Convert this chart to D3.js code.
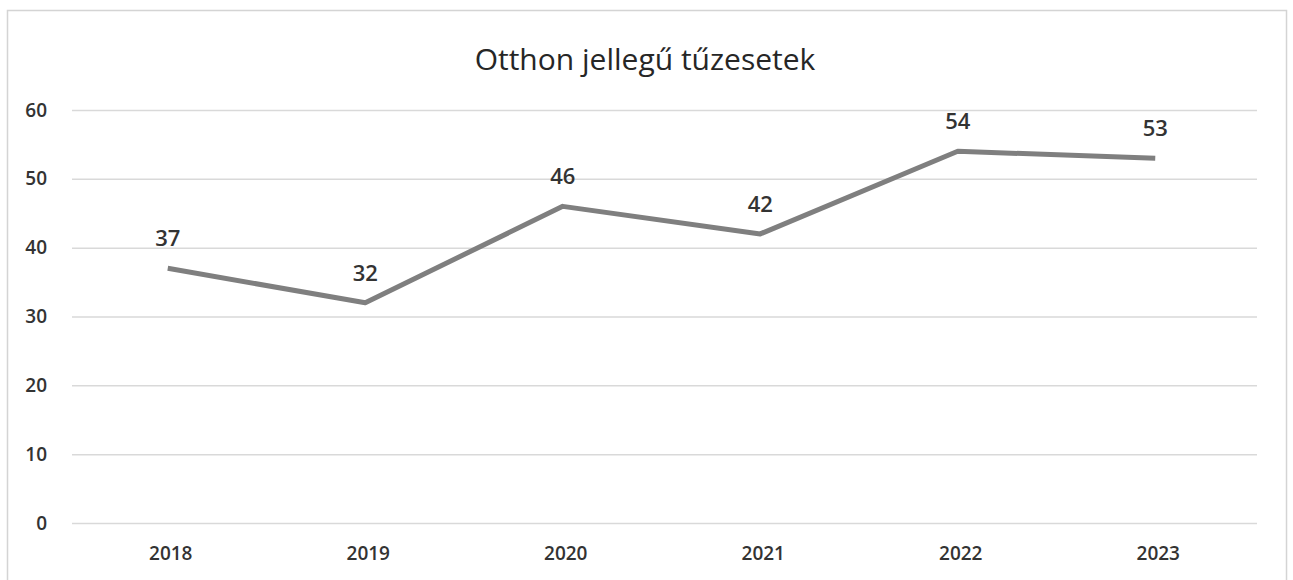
<!DOCTYPE html>
<html><head><meta charset="utf-8">
<script src="https://cdn.jsdelivr.net/npm/d3@7"></script>
<style>body{margin:0;background:#fff}svg{display:block}</style>
</head><body>
<svg id="c" width="1293" height="580"></svg>
<script>
const title = "Otthon jellegű tűzesetek";
const categories = ["2018","2019","2020","2021","2022","2023"];
const values = [37, 32, 46, 42, 54, 53];
const yTicks = [0,10,20,30,40,50,60];

const svg = d3.select("#c");
const m = {left:72, right:1257, top:110, bottom:523};
const font = "'Open Sans', 'DejaVu Sans', sans-serif";

svg.append("rect").attr("x",7.5).attr("y",10.5).attr("width",1279).attr("height",600)
  .attr("fill","#fff").attr("stroke","#d4d4d4").attr("stroke-width",1.5);

const x = d3.scaleBand().domain(categories).range([m.left, m.right]);
const y = d3.scaleLinear().domain([0,60]).range([m.bottom, m.top]);

svg.append("text").attr("x",645).attr("y",70).attr("text-anchor","middle")
  .attr("font-family",font).attr("font-size",30).attr("fill","#262626").text(title);

const yAxis = d3.axisLeft(y).tickValues(yTicks).tickSize(-(m.right-m.left)).tickPadding(25);
const gy = svg.append("g").attr("transform",`translate(${m.left},0)`).call(yAxis);
gy.select(".domain").remove();
gy.selectAll(".tick line").attr("stroke","#d9d9d9").attr("stroke-width",1.5);
gy.selectAll(".tick text").attr("font-family",font).attr("font-size",19).attr("font-weight","600").attr("fill","#333");

const xAxis = d3.axisBottom(x).tickSize(0).tickPadding(24);
const gx = svg.append("g").attr("transform",`translate(0,${m.bottom})`).call(xAxis);
gx.select(".domain").remove();
gx.selectAll(".tick text").attr("font-family",font).attr("font-size",19).attr("font-weight","600").attr("fill","#333");

const cx = d => x(d) + x.bandwidth()/2 - 3;
const line = d3.line().x((d,i)=>cx(categories[i])).y(d=>y(d));
svg.append("path").datum(values).attr("d",line).attr("fill","none")
  .attr("stroke","#7f7f7f").attr("stroke-width",5).attr("stroke-linejoin","round");

svg.selectAll(".lbl").data(values).enter().append("text").attr("class","lbl")
  .attr("x",(d,i)=>cx(categories[i])).attr("y",d=>y(d)-22)
  .attr("text-anchor","middle").attr("font-family",font).attr("font-size",22).attr("font-weight","600")
  .attr("fill","#333").text(d=>d);
</script>
</body></html>
